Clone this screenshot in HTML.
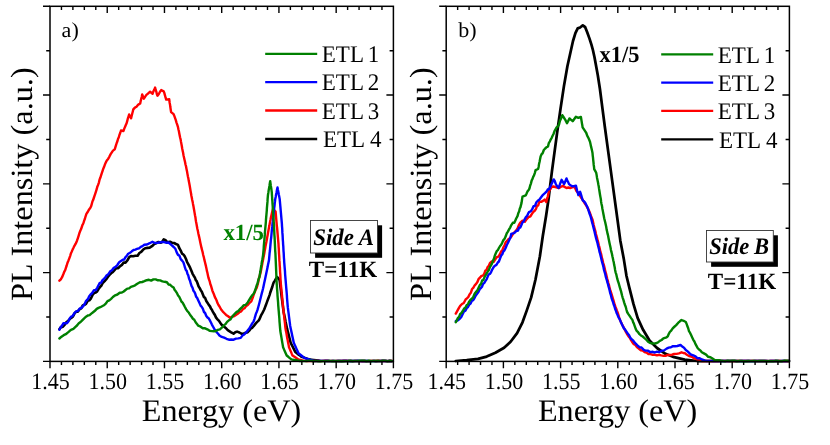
<!DOCTYPE html>
<html><head><meta charset="utf-8"><title>PL Intensity</title>
<style>html,body{margin:0;padding:0;background:#fff;}body{width:830px;height:445px;overflow:hidden;font-family:"Liberation Serif",serif;}svg{display:block;will-change:transform}svg text{font-family:"Liberation Serif",serif;text-rendering:geometricPrecision;}</style>
</head><body>
<svg width="830" height="445" viewBox="0 0 830 445" fill="#000">
<rect width="830" height="445" fill="#fff"/>
<polyline points="59.4,329.3 61.0,327.0 62.7,326.9 64.3,325.2 66.0,322.6 67.7,321.3 69.5,319.4 71.2,317.9 73.0,316.4 74.7,313.2 76.3,311.6 77.9,311.6 79.5,309.3 81.2,308.4 82.8,305.5 84.4,304.8 86.0,303.8 87.7,300.9 89.3,300.3 91.0,298.3 92.7,294.7 94.1,293.1 95.6,292.5 97.0,291.7 98.5,289.1 99.9,287.2 101.2,285.8 102.6,283.2 103.9,281.8 105.2,280.5 106.6,278.9 108.0,276.8 109.3,275.1 111.1,273.3 112.9,271.9 114.7,269.8 116.5,267.9 118.3,268.1 120.1,266.2 121.9,264.9 123.7,262.5 125.5,262.6 127.3,260.5 129.1,257.3 130.9,256.0 133.1,256.3 135.4,255.8 137.6,255.8 139.4,253.0 141.2,251.9 143.0,249.8 145.2,248.2 147.5,247.9 149.7,247.6 152.0,246.2 154.2,244.1 156.5,243.0 158.5,242.0 160.5,242.7 162.1,242.0 163.7,239.3 165.5,240.2 167.3,242.3 170.0,241.8 172.0,242.7 174.0,243.0 176.0,244.0 178.0,244.9 179.0,247.5 180.0,249.3 181.0,251.2 182.0,253.6 183.4,254.5 184.7,256.3 186.1,259.3 187.1,262.1 188.1,263.8 189.2,265.9 190.2,267.9 191.4,270.7 192.6,273.8 193.7,275.7 194.9,277.6 195.8,280.1 196.7,281.1 197.6,283.5 198.5,286.2 199.4,287.6 200.5,289.7 201.7,291.6 202.8,294.3 204.0,297.2 205.1,297.9 206.3,301.0 207.6,302.9 208.8,304.9 210.0,306.4 210.9,308.4 211.9,309.8 212.8,311.7 213.8,313.4 214.7,314.6 216.1,317.6 217.5,319.3 219.0,320.9 220.4,323.0 221.8,324.9 223.6,326.2 225.4,327.7 227.1,329.4 228.9,330.9 231.2,332.3 233.6,333.6 235.3,332.3 237.1,331.6 239.4,332.5 241.8,333.9 243.8,333.5 245.7,332.8 247.7,332.2 249.2,330.7 250.6,328.7 252.1,327.8 253.6,326.2 255.2,324.1 256.7,322.4 258.3,320.9 259.3,319.5 260.3,317.2 261.2,315.1 262.2,313.4 263.2,311.5 264.2,309.5 265.0,307.4 265.8,305.2 266.6,303.1 267.4,300.9 268.2,298.8 269.0,296.6 269.7,294.6 270.3,292.5 271.0,290.5 271.7,288.5 272.4,286.5 273.0,284.4 273.7,282.4 274.9,280.6 276.0,278.8 277.2,277.0 278.4,278.5 279.6,280.0 279.9,282.2 280.1,284.4 280.4,286.6 280.7,288.8 281.0,291.0 281.2,293.2 281.5,295.4 281.8,297.8 282.1,300.1 282.4,302.5 282.7,304.8 283.0,307.2 283.3,309.5 283.6,311.9 284.1,314.3 284.6,316.6 285.1,319.0 285.5,321.3 286.0,323.7 286.5,326.0 287.0,328.4 287.6,330.8 288.2,333.1 288.8,335.4 289.4,337.8 290.0,340.1 290.6,342.5 291.5,344.4 292.5,346.3 293.4,348.2 294.4,350.1 295.3,352.0 297.3,353.6 299.4,355.1 301.4,356.7 303.3,357.3 305.2,358.1 307.2,358.8 309.1,359.4 311.4,359.7 313.8,360.0 316.1,360.3 318.5,360.6 320.8,361.0 323.1,361.0 325.4,360.9 327.7,360.9 330.0,361.0 332.3,361.0 334.6,361.0 336.9,361.0 339.2,361.1 341.5,361.1 343.8,360.9 346.1,360.9 348.4,361.0 350.7,361.1 353.0,361.1 355.3,361.0 357.5,360.9 359.8,361.0 362.1,361.1 364.4,361.1 366.7,361.0 369.0,361.1 371.3,361.0 373.6,361.0 375.9,361.1 378.2,360.9 380.5,361.0 382.8,360.9 385.1,360.9 387.4,361.1 389.7,360.9 392.0,361.1" fill="none" stroke="#000000" stroke-width="2.6" stroke-linejoin="round" stroke-linecap="round"/>
<polyline points="59.4,280.7 60.8,279.3 62.1,277.2 63.5,273.8 64.3,271.7 65.1,270.3 65.9,267.9 66.7,265.5 67.5,262.8 68.4,260.7 69.3,258.3 70.2,255.8 71.0,253.2 71.8,251.5 72.7,249.4 73.5,247.8 74.3,246.1 75.7,243.7 77.0,240.7 77.8,238.3 78.6,235.8 79.4,233.2 80.2,231.0 81.0,229.3 81.8,227.0 82.5,224.9 83.3,223.5 84.1,220.9 84.9,218.8 85.6,216.3 86.4,213.9 87.7,212.0 89.1,209.4 90.4,207.7 91.1,206.3 91.8,203.9 92.5,201.3 93.1,200.1 93.8,198.0 94.5,195.9 95.2,193.8 96.0,191.4 96.7,189.2 97.4,186.4 98.1,184.9 98.9,182.6 99.6,179.4 100.3,177.8 101.0,175.6 101.8,173.2 102.5,171.1 103.2,168.9 104.0,167.1 104.8,164.8 105.6,162.9 106.8,160.5 108.1,158.9 109.3,156.8 110.5,154.4 111.8,152.4 113.0,150.6 114.8,149.3 115.4,147.1 116.1,144.9 116.7,143.0 117.4,141.3 118.0,139.0 118.8,137.3 119.5,134.7 120.2,133.0 121.0,130.5 123.4,131.1 124.2,128.9 125.0,126.9 125.8,125.1 126.6,123.3 127.2,121.1 127.8,118.7 128.5,116.5 129.1,114.5 130.1,116.7 131.1,118.3 131.7,115.7 132.2,113.8 132.8,111.5 133.3,109.4 134.9,107.6 136.5,106.8 138.3,104.6 140.2,103.5 140.7,101.1 141.2,98.9 141.7,97.1 142.2,94.5 143.1,96.6 143.9,98.7 145.2,96.6 146.4,94.9 147.7,93.8 150.1,91.7 152.6,93.7 153.4,91.3 154.3,89.6 155.1,87.6 155.7,90.0 156.3,91.6 156.9,94.3 157.5,95.7 158.7,94.3 160.0,91.8 161.2,90.1 163.7,91.3 164.3,92.9 164.9,95.1 165.6,97.7 166.2,99.6 169.2,99.2 169.6,102.4 170.0,104.4 170.3,106.8 170.7,109.5 171.1,112.1 173.6,114.2 174.3,115.9 175.1,118.2 175.8,120.1 176.5,122.6 177.3,124.9 178.0,127.1 178.4,129.2 178.9,131.3 179.3,133.5 179.7,135.5 180.1,137.5 180.6,139.4 181.0,141.8 181.4,143.9 181.8,146.0 182.2,148.5 182.7,151.0 183.1,152.8 183.5,155.3 184.0,157.5 184.5,159.7 185.0,161.7 185.5,164.5 186.0,166.3 186.5,168.9 187.0,171.3 187.4,173.6 187.9,176.4 188.4,178.6 188.8,181.1 189.3,183.6 189.8,186.2 190.2,188.6 190.6,191.1 191.0,193.2 191.4,195.7 191.8,197.8 192.2,200.0 192.6,201.6 193.0,203.9 193.4,205.9 193.8,208.3 194.2,210.5 194.6,212.9 195.0,215.2 195.4,217.2 195.7,219.6 196.1,222.0 196.5,224.0 196.9,226.3 197.4,228.9 197.9,231.1 198.4,233.8 198.9,235.9 199.4,238.1 199.9,240.6 200.4,242.9 200.9,245.3 201.5,247.9 202.1,250.2 202.7,252.4 203.2,255.0 203.8,257.1 204.4,259.9 205.0,262.3 205.5,264.4 206.0,266.4 206.5,268.7 206.9,270.9 207.4,272.8 207.9,275.2 208.4,277.5 209.0,279.3 209.7,281.3 210.3,284.0 211.0,285.7 211.6,287.9 212.3,290.3 212.9,292.1 213.8,294.0 214.8,296.9 215.7,298.6 216.6,300.5 217.6,303.3 218.5,305.0 219.9,307.2 221.3,309.8 222.8,311.6 224.2,313.0 226.1,314.9 228.1,316.3 230.0,317.8 232.0,316.7 233.9,316.3 235.9,314.9 237.7,313.7 239.4,312.3 241.2,311.4 243.0,309.0 244.7,308.1 246.3,305.9 248.0,304.7 249.6,302.8 251.3,301.3 252.1,299.3 253.0,296.8 253.8,294.4 254.7,292.2 255.5,290.0 256.4,288.5 257.2,286.1 257.8,284.0 258.4,281.4 258.9,278.5 259.5,276.7 260.1,274.4 260.7,272.0 261.2,269.5 261.6,267.0 262.1,264.8 262.5,262.4 263.0,260.1 263.4,257.7 263.9,255.4 264.3,253.2 264.7,250.9 265.1,248.7 265.5,246.4 265.9,244.2 266.4,241.9 266.8,239.7 267.2,237.4 267.6,235.2 268.0,232.9 268.4,230.7 268.8,228.4 269.3,226.1 269.7,223.8 270.1,221.6 270.6,219.3 271.0,217.0 271.5,215.0 272.0,212.9 272.5,210.9 273.0,208.9 274.3,210.2 275.6,211.6 275.8,213.9 276.0,216.3 276.2,218.6 276.4,220.9 276.6,223.2 276.8,225.6 277.1,227.9 277.3,230.2 277.5,232.6 277.7,234.9 277.9,237.2 278.1,239.5 278.3,241.9 278.5,244.2 278.6,246.5 278.8,248.8 278.9,251.2 279.0,253.5 279.2,255.8 279.3,258.1 279.4,260.4 279.6,262.7 279.7,265.1 279.9,267.4 280.0,269.7 280.1,272.0 280.3,274.3 280.4,276.6 280.5,279.0 280.7,281.3 280.8,283.6 281.0,286.0 281.3,288.3 281.5,290.7 281.7,293.0 282.0,295.4 282.2,297.8 282.4,300.1 282.6,302.5 282.9,304.8 283.1,307.2 283.4,309.6 283.6,311.9 283.9,314.3 284.2,316.6 284.4,319.0 284.7,321.3 285.0,323.7 285.2,326.0 285.5,328.4 285.9,330.8 286.4,333.1 286.8,335.5 287.2,337.9 287.7,340.2 288.1,342.6 288.6,344.9 289.0,347.3 289.9,349.4 290.8,351.4 291.6,353.4 292.5,355.5 294.5,356.8 296.4,358.1 298.4,359.4 300.4,359.9 302.3,360.5 304.3,360.9 306.6,361.0 309.0,361.0 311.3,361.0 313.6,361.0 316.0,361.0 318.3,360.9 320.7,361.1 323.0,360.9 325.3,360.9 327.7,361.0 330.0,361.1 332.3,361.0 334.6,361.1 336.9,361.0 339.2,361.0 341.5,361.0 343.8,361.0 346.1,361.0 348.4,360.9 350.7,360.9 353.0,361.1 355.3,360.9 357.6,361.1 359.9,361.1 362.1,361.0 364.4,361.0 366.7,361.1 369.0,361.1 371.3,360.9 373.6,360.9 375.9,361.0 378.2,361.0 380.5,361.0 382.8,360.9 385.1,361.0 387.4,361.1 389.7,361.0 392.0,361.0" fill="none" stroke="#ff0000" stroke-width="2.4" stroke-linejoin="round" stroke-linecap="round"/>
<polyline points="59.4,329.7 60.8,327.1 62.1,325.6 63.5,323.2 66.9,323.2 68.3,321.4 69.7,318.5 71.1,316.6 72.5,316.2 74.4,313.2 76.2,311.3 78.1,310.8 80.0,308.3 81.8,307.6 83.7,305.4 84.8,303.8 85.9,301.1 87.1,300.0 88.2,298.6 89.3,296.1 90.4,294.6 92.2,293.0 94.0,290.2 95.8,290.0 97.2,287.8 98.5,285.3 99.8,282.9 101.2,282.6 102.5,280.1 103.9,278.9 105.2,277.5 106.6,275.5 108.4,274.1 110.2,271.3 112.0,270.3 113.8,267.8 115.6,266.9 117.4,265.0 119.2,262.2 121.0,260.9 122.8,259.7 124.1,259.6 125.5,257.1 126.8,255.9 128.2,253.7 130.0,252.8 131.8,251.3 133.6,250.0 135.4,249.6 137.2,248.7 139.0,248.4 140.8,246.8 142.5,246.1 144.3,244.8 147.0,244.5 149.7,243.2 152.4,241.8 155.1,243.0 157.8,242.8 160.5,242.3 163.2,241.9 165.9,242.7 168.6,242.5 171.3,244.8 172.6,246.0 174.0,247.3 175.3,248.7 176.7,252.4 178.0,254.9 179.4,255.6 180.7,259.1 182.1,260.6 183.4,262.4 184.2,264.8 185.0,267.7 185.9,270.1 186.7,270.9 187.5,274.0 188.3,275.4 189.1,278.8 190.0,280.6 190.8,283.7 191.6,286.2 192.5,287.7 193.4,290.7 194.3,291.8 195.2,293.6 196.1,296.7 197.2,297.9 198.3,300.4 199.5,303.0 200.6,305.6 201.7,306.8 202.8,308.6 204.0,312.0 205.1,313.0 206.2,315.8 207.3,317.4 208.5,318.1 209.6,319.9 210.8,322.2 211.9,324.6 213.1,326.8 214.3,328.9 215.6,330.6 216.9,332.5 218.1,333.8 219.4,335.4 221.8,336.9 224.1,337.6 226.5,338.8 228.9,339.7 231.2,339.5 233.6,339.7 236.0,338.6 238.3,338.4 240.7,337.9 242.4,335.6 244.2,334.4 245.9,332.7 247.7,330.4 248.9,329.0 250.1,327.0 251.2,325.2 252.4,323.1 253.6,321.5 254.4,319.1 255.2,316.3 255.9,313.9 256.7,312.0 257.5,309.9 258.3,307.0 258.9,304.8 259.5,302.5 260.1,300.0 260.7,297.7 261.3,295.3 261.9,292.9 262.5,290.7 263.1,288.3 263.6,285.9 264.1,283.6 264.6,281.2 265.1,278.9 265.6,276.5 266.1,274.2 266.6,271.8 267.1,269.4 267.6,267.1 268.0,264.7 268.5,262.4 269.0,260.0 269.2,257.7 269.4,255.5 269.6,253.2 269.9,251.0 270.1,248.7 270.3,246.5 270.5,244.2 270.7,242.0 270.9,239.7 271.2,237.5 271.4,235.2 271.6,233.0 271.8,230.7 272.0,228.4 272.3,226.2 272.5,223.9 272.8,221.7 273.0,219.4 273.3,217.2 273.5,214.9 273.7,212.7 274.0,210.4 274.2,208.2 274.5,205.9 274.7,203.7 275.0,201.4 275.2,199.2 275.7,196.9 276.1,194.5 276.6,192.2 277.0,189.8 277.5,187.5 277.9,189.8 278.4,192.2 278.8,194.5 279.3,196.9 279.7,199.2 279.9,201.4 280.1,203.7 280.3,205.9 280.5,208.2 280.7,210.4 280.9,212.7 281.1,214.9 281.3,217.2 281.5,219.4 281.7,221.7 281.9,223.9 282.0,226.1 282.2,228.4 282.3,230.6 282.4,232.9 282.6,235.1 282.7,237.3 282.8,239.6 283.0,241.8 283.1,244.1 283.3,246.3 283.4,248.6 283.5,250.8 283.7,253.0 283.8,255.3 283.9,257.5 284.1,259.8 284.2,262.0 284.4,264.4 284.6,266.8 284.8,269.2 285.0,271.6 285.1,274.0 285.3,276.4 285.5,278.8 285.7,281.2 285.9,283.6 286.1,286.0 286.3,288.3 286.5,290.7 286.7,293.0 286.9,295.4 287.0,297.8 287.2,300.1 287.4,302.5 287.6,304.8 287.8,307.2 288.1,309.6 288.4,311.9 288.7,314.2 289.0,316.6 289.3,318.9 289.6,321.3 289.9,323.6 290.2,326.0 290.7,328.4 291.2,330.7 291.7,333.1 292.2,335.4 292.7,337.8 293.2,340.1 293.7,342.5 294.6,344.6 295.6,346.8 296.5,348.9 297.5,351.1 298.4,353.2 300.4,354.8 302.3,356.3 304.3,357.9 306.7,358.6 309.1,359.4 311.4,360.2 313.8,361.0 316.2,361.0 318.6,361.0 320.9,360.9 323.3,360.9 325.7,361.0 328.1,361.0 330.5,361.1 332.9,361.0 335.2,361.1 337.6,361.0 340.0,361.0 342.3,361.0 344.5,361.0 346.8,361.0 349.0,361.0 351.3,361.0 353.6,361.0 355.8,360.9 358.1,361.0 360.3,361.0 362.6,360.9 364.9,361.0 367.1,361.0 369.4,361.1 371.7,361.1 373.9,361.0 376.2,361.1 378.4,361.1 380.7,361.0 383.0,361.0 385.2,360.9 387.5,361.1 389.7,361.0 392.0,361.1" fill="none" stroke="#0000ff" stroke-width="2.4" stroke-linejoin="round" stroke-linecap="round"/>
<polyline points="59.4,338.5 61.5,336.7 63.7,335.2 65.8,334.2 68.0,332.4 69.8,330.8 71.6,329.6 73.4,328.8 75.2,327.1 77.0,325.5 78.8,323.2 80.6,322.0 82.4,320.1 84.2,318.3 86.0,316.7 87.8,315.5 89.6,315.1 91.3,313.6 93.1,312.2 94.9,310.8 96.7,308.9 98.5,307.9 100.3,307.2 102.1,306.2 103.9,305.3 105.7,303.7 107.5,301.1 109.3,300.3 111.1,298.8 112.9,297.0 115.2,295.3 117.4,294.5 119.7,292.7 121.9,292.6 123.7,291.5 125.5,290.0 127.3,288.6 129.1,288.4 130.9,286.9 133.2,286.2 135.4,285.1 137.7,283.5 139.9,282.3 142.2,282.0 144.4,281.2 146.7,280.2 148.9,279.8 151.2,280.6 153.4,279.4 155.7,279.4 157.9,280.3 160.2,280.4 162.4,281.3 164.7,281.8 166.9,282.2 168.6,284.5 170.2,284.8 171.9,286.5 173.6,287.6 174.7,290.0 175.8,291.3 177.0,293.2 178.1,295.5 179.2,296.8 180.3,299.1 181.4,301.5 182.6,302.6 183.7,304.6 184.8,306.8 186.2,309.4 187.5,311.3 188.9,312.8 190.2,315.0 191.6,316.8 192.9,318.7 194.3,319.8 195.6,322.2 197.0,324.0 198.3,325.7 200.6,326.7 202.8,328.3 205.1,328.3 207.3,329.3 209.6,330.8 211.8,331.1 214.0,331.2 215.9,331.1 217.9,329.8 219.9,329.3 221.8,327.7 223.6,325.7 225.4,324.2 227.1,321.9 228.9,320.3 230.5,319.5 232.0,317.0 233.6,315.0 235.2,313.4 236.7,311.9 238.3,311.1 240.2,308.9 242.1,307.1 243.9,305.2 245.8,304.8 247.7,302.4 248.9,300.4 250.1,298.4 251.2,296.6 252.4,295.0 253.6,293.8 254.8,291.4 255.5,289.2 256.1,287.4 256.8,285.0 257.5,283.6 258.2,280.5 258.8,278.7 259.5,276.8 259.9,274.0 260.3,272.1 260.7,269.3 261.1,266.7 261.5,264.5 261.9,261.8 262.3,259.8 262.7,257.4 263.1,255.0 263.3,252.8 263.5,250.5 263.7,248.3 263.8,246.1 264.0,243.8 264.2,241.6 264.4,239.4 264.6,237.2 264.8,234.9 264.9,232.7 265.1,230.5 265.3,228.2 265.5,226.0 265.7,223.8 265.9,221.5 266.0,219.3 266.2,217.1 266.4,214.8 266.6,212.6 266.8,210.3 266.9,208.1 267.1,205.9 267.3,203.6 267.5,201.4 267.6,199.2 267.8,196.9 268.0,194.7 268.4,192.4 268.7,190.2 269.1,187.9 269.5,185.7 269.8,183.4 270.2,181.2 270.5,183.5 270.8,185.7 271.2,188.0 271.5,190.2 271.8,192.5 271.9,194.7 272.1,197.0 272.2,199.2 272.4,201.4 272.5,203.7 272.7,205.9 272.8,208.1 273.0,210.4 273.1,212.6 273.3,214.8 273.4,217.1 273.6,219.3 273.7,221.5 273.9,223.8 274.0,226.0 274.1,228.2 274.2,230.5 274.3,232.8 274.4,235.0 274.6,237.2 274.7,239.5 274.8,241.8 274.9,244.0 275.0,246.2 275.1,248.5 275.2,250.8 275.4,253.0 275.5,255.2 275.6,257.5 275.7,259.8 275.8,262.0 275.9,264.4 276.0,266.8 276.1,269.2 276.2,271.6 276.3,274.0 276.4,276.4 276.5,278.8 276.6,281.2 276.7,283.6 276.9,286.0 277.0,288.3 277.2,290.7 277.4,293.0 277.5,295.4 277.7,297.8 277.9,300.1 278.1,302.5 278.2,304.8 278.4,307.2 278.6,309.6 278.8,311.9 279.0,314.3 279.2,316.6 279.4,319.0 279.5,321.4 279.7,323.7 279.9,326.1 280.1,328.4 280.3,330.8 280.7,333.2 281.1,335.5 281.5,337.9 281.9,340.2 282.3,342.6 282.7,344.9 283.1,347.3 284.0,349.4 284.9,351.4 285.8,353.4 286.7,355.5 288.3,356.8 289.8,358.1 291.4,359.4 293.4,359.8 295.5,359.9 297.6,360.5 299.6,361.0 301.9,361.0 304.2,361.1 306.5,361.0 308.8,360.7 311.2,360.8 313.5,361.2 315.8,360.9 318.1,361.2 320.4,361.3 322.7,361.1 325.0,361.1 327.3,361.1 329.6,360.9 331.9,361.2 334.2,361.0 336.6,361.2 338.9,360.9 341.2,361.2 343.5,361.2 345.8,361.1 348.1,361.0 350.4,360.8 352.7,361.2 355.0,360.9 357.4,361.1 359.7,360.8 362.0,360.7 364.3,360.8 366.6,361.2 368.9,360.8 371.2,361.2 373.5,360.9 375.8,361.0 378.1,360.9 380.4,361.1 382.8,360.8 385.1,360.9 387.4,361.3 389.7,360.8 392.0,361.1" fill="none" stroke="#008000" stroke-width="2.4" stroke-linejoin="round" stroke-linecap="round"/>
<rect x="50.0" y="6.3" width="343.4" height="355.1" fill="none" stroke="#000" stroke-width="1.5"/>
<path d="M50.00,361.4 v6.8 M61.45,361.4 v3.7 M61.45,6.3 v3.7 M72.89,361.4 v3.7 M72.89,6.3 v3.7 M84.34,361.4 v3.7 M84.34,6.3 v3.7 M95.79,361.4 v3.7 M95.79,6.3 v3.7 M107.23,361.4 v6.8 M107.23,6.3 v6.8 M118.68,361.4 v3.7 M118.68,6.3 v3.7 M130.13,361.4 v3.7 M130.13,6.3 v3.7 M141.57,361.4 v3.7 M141.57,6.3 v3.7 M153.02,361.4 v3.7 M153.02,6.3 v3.7 M164.47,361.4 v6.8 M164.47,6.3 v6.8 M175.91,361.4 v3.7 M175.91,6.3 v3.7 M187.36,361.4 v3.7 M187.36,6.3 v3.7 M198.81,361.4 v3.7 M198.81,6.3 v3.7 M210.25,361.4 v3.7 M210.25,6.3 v3.7 M221.70,361.4 v6.8 M221.70,6.3 v6.8 M233.15,361.4 v3.7 M233.15,6.3 v3.7 M244.59,361.4 v3.7 M244.59,6.3 v3.7 M256.04,361.4 v3.7 M256.04,6.3 v3.7 M267.49,361.4 v3.7 M267.49,6.3 v3.7 M278.93,361.4 v6.8 M278.93,6.3 v6.8 M290.38,361.4 v3.7 M290.38,6.3 v3.7 M301.83,361.4 v3.7 M301.83,6.3 v3.7 M313.27,361.4 v3.7 M313.27,6.3 v3.7 M324.72,361.4 v3.7 M324.72,6.3 v3.7 M336.17,361.4 v6.8 M336.17,6.3 v6.8 M347.61,361.4 v3.7 M347.61,6.3 v3.7 M359.06,361.4 v3.7 M359.06,6.3 v3.7 M370.51,361.4 v3.7 M370.51,6.3 v3.7 M381.95,361.4 v3.7 M381.95,6.3 v3.7 M393.40,361.4 v6.8 M50.0,6.30 h-7.0 M50.0,50.69 h-3.8 M393.4,50.69 h-3.8 M50.0,95.07 h-7.0 M393.4,95.07 h-7.0 M50.0,139.46 h-3.8 M393.4,139.46 h-3.8 M50.0,183.85 h-7.0 M393.4,183.85 h-7.0 M50.0,228.24 h-3.8 M393.4,228.24 h-3.8 M50.0,272.62 h-7.0 M393.4,272.62 h-7.0 M50.0,317.01 h-3.8 M393.4,317.01 h-3.8 M50.0,361.40 h-7.0" stroke="#000" stroke-width="1.4" fill="none"/>
<text transform="translate(50.60,388.90) scale(1.0,1.065)" font-size="22" text-anchor="middle">1.45</text>
<text transform="translate(107.83,388.90) scale(1.0,1.065)" font-size="22" text-anchor="middle">1.50</text>
<text transform="translate(165.07,388.90) scale(1.0,1.065)" font-size="22" text-anchor="middle">1.55</text>
<text transform="translate(222.30,388.90) scale(1.0,1.065)" font-size="22" text-anchor="middle">1.60</text>
<text transform="translate(279.53,388.90) scale(1.0,1.065)" font-size="22" text-anchor="middle">1.65</text>
<text transform="translate(336.77,388.90) scale(1.0,1.065)" font-size="22" text-anchor="middle">1.70</text>
<text transform="translate(394.00,388.90) scale(1.0,1.065)" font-size="22" text-anchor="middle">1.75</text>
<text transform="translate(221.50,421.00) scale(1.0,0.975)" font-size="32.2" text-anchor="middle">Energy (eV)</text>
<text transform="translate(61.60,36.50) scale(1.03,1.0)" font-size="21.4">a)</text>
<text transform="translate(32.10,184.20) rotate(-90) scale(1.0,0.955)" font-size="32.3" text-anchor="middle">PL Intensity (a.u.)</text>
<line x1="265.2" y1="53.9" x2="317.2" y2="53.9" stroke="#008000" stroke-width="2.3"/>
<text word-spacing="-1.0" transform="translate(321.80,62.10) scale(1.045,1.085)" font-size="22">ETL 1</text>
<line x1="265.2" y1="82.2" x2="317.2" y2="82.2" stroke="#0000ff" stroke-width="2.3"/>
<text word-spacing="-1.0" transform="translate(321.80,90.40) scale(1.045,1.085)" font-size="22">ETL 2</text>
<line x1="265.2" y1="110.5" x2="317.2" y2="110.5" stroke="#ff0000" stroke-width="2.3"/>
<text word-spacing="-1.0" transform="translate(321.80,118.70) scale(1.045,1.085)" font-size="22">ETL 3</text>
<line x1="265.2" y1="139" x2="317.2" y2="139" stroke="#000000" stroke-width="2.3"/>
<text word-spacing="0.0" transform="translate(322.90,147.20) scale(1.045,1.085)" font-size="22">ETL 4</text>
<text transform="translate(223.40,240.00) scale(1.035,1.06)" font-size="22" font-weight="bold" fill="#008000">x1/5</text>
<rect x="315.1" y="225.3" width="67.0" height="32.5" fill="#000"/>
<rect x="310.5" y="220.5" width="67.0" height="32.5" fill="#fff" stroke="#333" stroke-width="0.9"/>
<text word-spacing="0.0" transform="translate(313.20,244.90) scale(1.04,1.075)" font-size="22" font-weight="bold" font-style="italic">Side A</text>
<text transform="translate(308.80,277.20) scale(1.05,1.06)" font-size="22" font-weight="bold">T=11K</text>
<polyline points="455.8,361.0 466.7,360.2 478.0,358.9 486.7,356.6 495.4,352.7 504.1,347.7 510.6,341.8 517.1,333.1 522.5,322.3 526.8,310.4 531.2,297.4 535.5,279.5 539.9,256.2 542.8,236.0 546.1,215.7 548.4,200.0 551.9,171.7 557.2,132.1 560.5,108.9 563.9,86.4 567.4,66.2 571.0,50.0 573.0,41.0 575.4,33.1 577.7,28.4 580.1,27.5 582.8,25.3 585.2,27.2 587.2,32.3 589.5,38.6 591.5,44.9 592.9,50.0 594.5,57.2 597.8,75.2 599.9,88.7 602.5,108.9 604.9,127.2 608.6,154.4 612.3,181.6 616.0,208.8 620.3,240.4 623.7,258.4 626.5,276.0 629.2,287.1 633.5,304.2 637.7,318.1 643.1,329.8 649.5,340.5 657.0,348.0 665.5,353.8 674.1,357.2 684.7,359.7 697.6,361.0 789.0,361.0" fill="none" stroke="#000000" stroke-width="2.75" stroke-linejoin="round" stroke-linecap="round"/>
<polyline points="455.8,313.6 456.9,311.7 458.0,309.7 459.1,307.6 460.2,305.8 462.0,304.0 463.8,303.0 465.6,299.5 466.9,298.4 468.2,297.2 469.5,294.4 470.8,292.8 472.1,289.0 473.4,287.7 474.7,285.3 476.1,283.9 477.4,282.0 478.7,278.8 480.1,277.5 481.5,275.9 482.9,275.6 484.3,273.6 485.4,270.5 486.5,270.0 487.7,266.9 488.8,266.0 489.9,263.2 491.8,261.4 493.7,261.9 495.6,258.9 497.0,257.0 498.4,256.6 499.8,254.4 501.2,251.3 502.3,250.3 503.4,247.3 504.6,245.3 505.7,242.1 506.8,241.2 508.4,239.2 509.9,238.1 511.5,236.4 513.3,233.3 515.1,231.7 516.9,229.6 517.8,227.7 518.6,225.6 519.4,224.1 520.3,222.7 522.5,220.7 524.8,221.7 526.7,219.1 528.5,217.2 530.4,216.4 531.9,213.9 533.4,211.8 534.9,210.5 536.0,208.9 537.1,205.7 538.2,205.5 539.3,201.7 541.1,201.9 543.0,200.9 544.6,199.6 546.3,202.1 547.0,198.7 547.8,196.6 548.5,193.2 549.2,190.8 550.5,188.8 551.7,186.8 553.5,186.5 555.4,187.2 557.2,187.7 559.1,188.1 561.0,186.8 562.8,185.9 564.6,186.9 566.5,188.0 568.4,187.5 570.2,188.0 572.0,187.4 573.9,186.8 575.2,188.3 576.4,190.9 577.7,192.4 578.9,194.3 580.2,196.1 581.4,198.0 582.6,199.6 583.9,202.0 585.1,203.8 586.1,205.3 587.0,207.0 588.0,208.6 589.0,210.8 590.0,213.1 591.0,215.9 592.0,218.4 592.6,220.0 593.1,222.2 593.7,225.1 594.2,227.0 594.8,229.2 595.4,231.3 595.9,233.8 596.5,236.2 597.1,238.2 597.6,240.4 598.2,242.4 598.8,245.3 599.3,246.8 599.9,249.4 600.4,251.9 601.0,253.6 601.6,256.3 602.1,258.7 602.7,260.7 603.2,263.1 603.8,264.9 604.4,267.4 604.9,269.4 605.5,272.2 606.1,273.9 606.6,276.2 607.2,278.8 607.8,280.8 608.3,283.1 608.9,284.8 609.4,287.0 610.0,289.4 610.7,291.3 611.3,293.3 612.0,295.5 612.6,297.5 613.3,299.8 614.0,302.4 614.6,304.5 615.3,306.4 616.1,308.4 616.8,310.4 617.6,312.4 618.3,314.7 619.1,317.3 619.8,319.5 620.6,321.2 621.7,323.7 622.8,325.8 623.9,327.9 624.9,330.0 626.0,332.2 627.1,334.0 628.4,336.2 629.7,337.7 630.9,339.8 632.2,342.0 633.5,343.9 635.4,345.1 637.2,347.4 639.0,348.7 640.9,350.2 642.8,350.5 644.6,352.0 646.5,352.6 648.4,354.0 650.5,354.1 652.7,354.8 654.9,354.9 657.0,355.3 659.1,354.9 661.2,355.4 663.4,355.7 665.5,355.9 667.6,354.9 669.8,355.0 672.0,354.7 674.1,354.0 676.6,353.9 679.0,353.3 681.5,352.3 683.3,353.0 685.1,353.3 686.9,354.8 689.0,356.0 691.2,356.5 693.3,357.8 695.4,358.7 697.5,359.6 699.7,359.8 701.8,361.1 704.1,361.0 706.4,361.0 708.7,361.0 711.0,361.0 713.3,361.1 715.6,361.0 717.9,361.0 720.2,360.9 722.5,360.9 724.7,361.0 727.0,361.0 729.3,360.9 731.6,361.0 733.9,361.0 736.2,360.9 738.5,361.0 740.8,360.9 743.1,360.9 745.4,360.9 747.7,361.0 750.0,360.9 752.3,360.9 754.6,360.9 756.9,361.0 759.2,361.0 761.5,361.0 763.8,361.0 766.1,360.9 768.3,361.1 770.6,360.9 772.9,361.0 775.2,361.0 777.5,361.0 779.8,360.9 782.1,361.1 784.4,361.0 786.7,360.9 789.0,361.0" fill="none" stroke="#ff0000" stroke-width="2.4" stroke-linejoin="round" stroke-linecap="round"/>
<polyline points="455.8,321.2 457.6,320.4 459.5,319.1 461.3,316.9 462.6,314.2 464.0,311.5 465.4,310.7 466.7,308.1 468.0,307.0 469.3,304.5 470.6,303.5 471.9,300.8 473.2,300.1 474.5,298.0 475.8,295.4 477.1,293.8 478.4,292.1 479.7,289.2 480.9,288.1 482.0,286.7 483.1,283.8 484.3,283.0 485.5,280.9 486.6,279.4 487.7,276.6 488.8,274.3 490.0,273.9 491.1,272.1 492.2,269.6 493.6,267.1 495.0,265.7 496.4,264.9 497.8,262.5 498.9,261.5 500.0,258.6 501.2,255.6 502.3,254.2 503.4,251.4 504.5,250.3 505.6,248.0 506.8,245.0 507.9,243.0 508.8,241.1 509.6,239.3 510.4,237.7 511.3,233.9 513.0,233.4 514.6,232.8 516.3,231.0 518.0,230.5 519.1,227.7 520.3,227.5 521.4,225.0 522.6,222.3 523.7,221.6 524.8,219.1 525.9,217.1 527.1,215.9 528.2,213.4 529.3,211.8 530.7,211.4 532.1,209.4 533.5,206.2 534.9,206.1 536.4,202.3 537.8,200.8 539.3,199.7 541.1,197.3 543.0,194.8 544.9,193.1 546.7,191.3 548.0,189.1 549.2,189.2 550.5,186.2 551.3,184.6 552.1,182.9 552.9,180.9 553.7,179.4 554.7,181.0 555.6,183.5 556.6,185.5 558.6,187.9 559.4,186.0 560.1,183.7 560.9,181.8 561.6,179.8 562.9,181.9 564.1,184.1 564.9,182.4 565.7,180.4 566.5,178.4 567.3,180.6 568.2,182.1 569.0,184.1 570.9,185.5 572.7,186.3 575.9,185.6 576.5,188.1 577.1,190.6 577.8,192.8 578.4,195.1 579.2,193.3 580.1,191.8 580.7,193.5 581.4,195.8 582.0,198.2 582.6,200.2 583.9,201.2 585.1,202.6 586.3,205.0 587.5,207.3 588.2,209.5 588.9,211.6 589.7,214.0 590.4,215.8 591.1,218.1 591.7,220.6 592.2,222.8 592.8,224.7 593.4,227.1 593.9,229.1 594.5,231.4 595.0,233.7 595.6,236.2 596.2,238.6 596.7,240.3 597.3,242.3 597.9,244.9 598.4,246.9 599.0,249.1 599.5,251.9 600.1,253.6 600.7,256.3 601.2,258.3 601.8,261.0 602.4,263.2 602.9,264.8 603.5,267.2 604.0,270.0 604.6,272.0 605.2,273.9 605.7,276.3 606.3,278.4 606.9,280.3 607.4,282.4 608.0,284.2 608.6,286.6 609.2,288.6 609.8,291.2 610.3,293.4 610.9,295.2 611.5,297.8 612.1,299.6 612.9,301.7 613.6,304.3 614.4,306.3 615.1,308.8 615.9,310.7 616.6,312.9 617.4,314.6 618.5,317.3 619.5,318.8 620.6,321.4 621.7,323.8 622.7,325.9 623.8,328.1 625.1,329.6 626.4,331.7 627.7,333.7 629.0,335.0 630.3,337.7 631.8,339.4 633.3,340.7 634.7,342.7 636.2,344.1 637.7,345.7 639.6,347.2 641.5,347.5 643.3,349.4 645.2,350.6 647.7,350.6 650.2,352.1 652.7,351.8 654.8,352.5 657.0,351.6 659.1,352.2 661.6,350.7 664.1,350.4 666.6,348.6 668.7,347.6 670.9,347.3 673.0,346.1 675.1,346.2 677.3,346.0 680.5,345.0 682.3,346.6 684.0,347.7 685.8,350.0 687.6,351.4 689.4,353.2 691.2,354.6 693.3,355.4 695.5,356.3 697.6,358.3 699.7,358.3 701.9,359.5 704.0,360.2 706.1,361.0 708.4,360.9 710.7,360.9 713.0,361.0 715.3,360.9 717.6,361.0 719.9,360.9 722.2,361.0 724.5,360.9 726.8,361.0 729.1,361.0 731.4,360.9 733.7,360.9 736.0,361.0 738.3,361.1 740.6,361.0 742.9,360.9 745.2,361.0 747.5,360.9 749.9,361.0 752.2,361.1 754.5,361.0 756.8,360.9 759.1,361.0 761.4,361.0 763.7,361.0 766.0,361.0 768.3,361.1 770.6,361.0 772.9,361.0 775.2,361.0 777.5,361.0 779.8,361.1 782.1,361.0 784.4,361.0 786.7,361.1 789.0,360.9" fill="none" stroke="#0000ff" stroke-width="2.4" stroke-linejoin="round" stroke-linecap="round"/>
<polyline points="455.8,322.3 456.9,320.1 458.0,317.9 459.1,316.9 460.2,313.9 461.5,313.0 462.8,311.0 464.1,308.6 465.4,307.8 466.7,305.1 468.0,304.1 469.2,301.6 470.5,299.8 471.8,298.7 473.0,297.6 474.3,294.5 475.4,292.7 476.5,291.4 477.6,290.0 478.8,287.3 479.9,284.9 481.0,284.0 482.1,280.5 483.2,280.2 484.4,277.4 485.5,275.3 486.6,273.5 487.7,271.6 488.8,270.2 490.0,266.9 491.1,265.3 492.2,263.1 493.1,260.4 494.0,258.5 494.9,255.4 495.8,253.2 496.7,251.2 497.8,250.2 498.9,248.0 500.1,246.0 501.2,244.7 502.3,242.6 503.4,240.1 504.6,238.7 505.7,236.3 506.8,233.2 507.9,231.6 509.1,229.2 510.2,227.6 511.3,225.1 512.8,222.8 514.3,222.7 515.8,219.4 516.6,217.8 517.5,216.1 518.4,212.9 519.2,211.2 519.8,208.5 520.4,207.4 520.9,205.4 521.5,203.1 521.8,201.2 522.2,198.4 522.5,196.6 525.7,195.4 526.6,193.5 527.5,191.4 528.5,190.3 529.4,188.6 530.2,185.5 530.9,183.6 531.7,180.4 532.4,179.2 533.2,176.8 534.0,175.4 534.8,173.1 535.6,170.1 538.1,169.0 538.6,167.0 539.1,163.6 539.6,161.8 540.1,158.9 540.6,156.4 541.7,154.0 542.7,153.2 543.8,150.0 545.2,148.5 546.6,147.2 548.0,146.4 548.9,142.8 549.9,141.3 550.8,139.3 551.7,137.8 552.6,135.8 553.5,134.0 554.5,131.2 555.4,129.6 556.6,127.4 557.9,126.3 559.1,124.3 559.9,120.9 560.7,119.3 561.5,117.2 562.3,115.2 563.8,117.5 565.3,119.8 566.1,121.5 567.0,123.3 568.2,121.0 569.5,118.4 571.1,119.8 572.7,121.2 574.3,119.0 575.9,116.8 578.4,117.9 580.9,116.9 581.2,118.7 581.6,121.1 581.9,123.1 582.3,125.2 582.6,127.3 583.8,129.2 585.1,131.2 586.3,133.0 587.2,135.7 588.1,137.3 589.1,139.5 590.0,141.7 590.5,144.0 591.0,146.4 591.5,148.4 592.0,150.6 592.5,152.9 592.7,155.3 593.0,157.7 593.2,159.8 593.5,162.5 593.7,164.7 594.0,166.7 594.2,169.1 595.2,170.9 596.2,172.8 596.6,174.9 597.0,177.7 597.5,180.0 597.9,181.9 598.3,184.2 598.7,186.2 599.0,188.4 599.4,190.7 599.7,192.7 600.1,195.2 600.4,196.9 600.8,199.0 601.1,201.7 601.5,203.9 602.0,206.1 602.4,208.8 602.8,210.9 603.3,213.5 603.8,216.0 604.2,218.2 604.7,220.3 605.2,222.3 605.7,224.6 606.2,226.7 606.6,229.4 607.1,231.5 607.6,233.9 608.1,235.8 608.5,238.0 609.0,240.6 609.5,243.0 610.0,245.2 610.5,247.4 610.9,249.7 611.4,251.9 611.9,253.7 612.4,256.2 612.9,258.4 613.3,260.4 613.8,262.6 614.2,265.1 614.7,267.3 615.1,269.9 615.6,272.3 616.2,274.1 616.8,276.7 617.3,278.9 617.9,281.0 618.5,282.7 619.1,284.7 619.7,286.9 620.3,289.0 621.0,291.1 621.6,293.6 622.2,296.0 622.8,298.1 623.5,300.1 624.2,302.6 625.0,305.0 625.7,306.7 626.4,309.5 627.1,312.0 628.4,314.1 629.8,316.2 631.1,318.1 632.4,319.9 633.3,322.6 634.1,324.3 635.0,326.9 635.8,329.2 636.7,330.8 638.1,332.2 639.5,334.2 640.9,335.4 642.7,336.5 644.5,338.1 646.3,339.7 648.1,341.7 649.8,342.8 651.6,343.3 653.7,343.6 655.9,343.3 658.0,342.4 659.8,340.9 661.6,340.0 663.4,338.4 666.6,337.3 667.7,336.4 668.7,334.1 669.8,332.0 671.2,330.6 672.7,328.3 674.1,327.0 676.2,325.1 678.3,322.7 679.9,321.3 681.5,320.0 683.6,320.8 685.8,322.0 686.6,323.9 687.4,326.3 688.2,328.3 689.0,331.2 690.1,332.9 691.1,335.1 692.2,337.4 693.3,339.8 694.4,341.5 695.5,344.1 696.5,345.9 697.6,348.0 699.0,349.5 700.4,350.4 701.8,352.2 703.9,353.4 706.1,354.6 708.2,356.8 710.4,357.2 712.5,358.6 714.7,360.0 716.8,360.1 719.0,360.1 721.1,360.7 723.2,361.0 725.5,361.2 727.7,360.7 730.0,361.0 732.3,360.8 734.5,360.8 736.8,361.2 739.1,361.0 741.4,361.0 743.6,361.2 745.9,361.3 748.2,361.0 750.4,361.1 752.7,361.0 755.0,361.0 757.2,361.1 759.5,361.0 761.8,361.0 764.0,361.0 766.3,361.3 768.6,361.1 770.8,361.3 773.1,361.3 775.4,360.8 777.7,361.0 779.9,361.3 782.2,361.2 784.5,360.7 786.7,360.7 789.0,361.0" fill="none" stroke="#008000" stroke-width="2.4" stroke-linejoin="round" stroke-linecap="round"/>
<rect x="446.2" y="6.3" width="343.2" height="355.1" fill="none" stroke="#000" stroke-width="1.5"/>
<path d="M446.20,361.4 v6.8 M457.64,361.4 v3.7 M457.64,6.3 v3.7 M469.08,361.4 v3.7 M469.08,6.3 v3.7 M480.52,361.4 v3.7 M480.52,6.3 v3.7 M491.96,361.4 v3.7 M491.96,6.3 v3.7 M503.40,361.4 v6.8 M503.40,6.3 v6.8 M514.84,361.4 v3.7 M514.84,6.3 v3.7 M526.28,361.4 v3.7 M526.28,6.3 v3.7 M537.72,361.4 v3.7 M537.72,6.3 v3.7 M549.16,361.4 v3.7 M549.16,6.3 v3.7 M560.60,361.4 v6.8 M560.60,6.3 v6.8 M572.04,361.4 v3.7 M572.04,6.3 v3.7 M583.48,361.4 v3.7 M583.48,6.3 v3.7 M594.92,361.4 v3.7 M594.92,6.3 v3.7 M606.36,361.4 v3.7 M606.36,6.3 v3.7 M617.80,361.4 v6.8 M617.80,6.3 v6.8 M629.24,361.4 v3.7 M629.24,6.3 v3.7 M640.68,361.4 v3.7 M640.68,6.3 v3.7 M652.12,361.4 v3.7 M652.12,6.3 v3.7 M663.56,361.4 v3.7 M663.56,6.3 v3.7 M675.00,361.4 v6.8 M675.00,6.3 v6.8 M686.44,361.4 v3.7 M686.44,6.3 v3.7 M697.88,361.4 v3.7 M697.88,6.3 v3.7 M709.32,361.4 v3.7 M709.32,6.3 v3.7 M720.76,361.4 v3.7 M720.76,6.3 v3.7 M732.20,361.4 v6.8 M732.20,6.3 v6.8 M743.64,361.4 v3.7 M743.64,6.3 v3.7 M755.08,361.4 v3.7 M755.08,6.3 v3.7 M766.52,361.4 v3.7 M766.52,6.3 v3.7 M777.96,361.4 v3.7 M777.96,6.3 v3.7 M789.40,361.4 v6.8 M446.2,6.30 h-7.0 M446.2,50.69 h-3.8 M789.4,50.69 h-3.8 M446.2,95.07 h-7.0 M789.4,95.07 h-7.0 M446.2,139.46 h-3.8 M789.4,139.46 h-3.8 M446.2,183.85 h-7.0 M789.4,183.85 h-7.0 M446.2,228.24 h-3.8 M789.4,228.24 h-3.8 M446.2,272.62 h-7.0 M789.4,272.62 h-7.0 M446.2,317.01 h-3.8 M789.4,317.01 h-3.8 M446.2,361.40 h-7.0" stroke="#000" stroke-width="1.4" fill="none"/>
<text transform="translate(446.80,388.90) scale(1.0,1.065)" font-size="22" text-anchor="middle">1.45</text>
<text transform="translate(504.00,388.90) scale(1.0,1.065)" font-size="22" text-anchor="middle">1.50</text>
<text transform="translate(561.20,388.90) scale(1.0,1.065)" font-size="22" text-anchor="middle">1.55</text>
<text transform="translate(618.40,388.90) scale(1.0,1.065)" font-size="22" text-anchor="middle">1.60</text>
<text transform="translate(675.60,388.90) scale(1.0,1.065)" font-size="22" text-anchor="middle">1.65</text>
<text transform="translate(732.80,388.90) scale(1.0,1.065)" font-size="22" text-anchor="middle">1.70</text>
<text transform="translate(790.00,388.90) scale(1.0,1.065)" font-size="22" text-anchor="middle">1.75</text>
<text transform="translate(617.60,421.00) scale(1.0,0.975)" font-size="32.2" text-anchor="middle">Energy (eV)</text>
<text transform="translate(458.20,36.50) scale(1.03,1.0)" font-size="21.4">b)</text>
<text transform="translate(430.60,184.20) rotate(-90) scale(1.0,0.955)" font-size="32.3" text-anchor="middle">PL Intensity (a.u.)</text>
<line x1="661.2" y1="54.3" x2="713.2" y2="54.3" stroke="#008000" stroke-width="2.3"/>
<text word-spacing="-1.0" transform="translate(717.80,62.50) scale(1.045,1.085)" font-size="22">ETL 1</text>
<line x1="661.2" y1="82.60000000000001" x2="713.2" y2="82.60000000000001" stroke="#0000ff" stroke-width="2.3"/>
<text word-spacing="-1.0" transform="translate(717.80,90.80) scale(1.045,1.085)" font-size="22">ETL 2</text>
<line x1="661.2" y1="110.9" x2="713.2" y2="110.9" stroke="#ff0000" stroke-width="2.3"/>
<text word-spacing="-1.0" transform="translate(717.80,119.10) scale(1.045,1.085)" font-size="22">ETL 3</text>
<line x1="661.2" y1="139.4" x2="713.2" y2="139.4" stroke="#000000" stroke-width="2.3"/>
<text word-spacing="0.0" transform="translate(718.90,147.60) scale(1.045,1.085)" font-size="22">ETL 4</text>
<text transform="translate(599.50,61.90) scale(1.02,1.06)" font-size="22" font-weight="bold">x1/5</text>
<rect x="711.1" y="235.3" width="66.8" height="31.5" fill="#000"/>
<rect x="706.5" y="230.5" width="66.8" height="31.5" fill="#fff" stroke="#333" stroke-width="0.9"/>
<text word-spacing="-1.0" transform="translate(709.20,254.30) scale(1.025,1.075)" font-size="22" font-weight="bold" font-style="italic">Side B</text>
<text transform="translate(707.80,289.20) scale(1.05,1.06)" font-size="22" font-weight="bold">T=11K</text>
</svg>
</body></html>
